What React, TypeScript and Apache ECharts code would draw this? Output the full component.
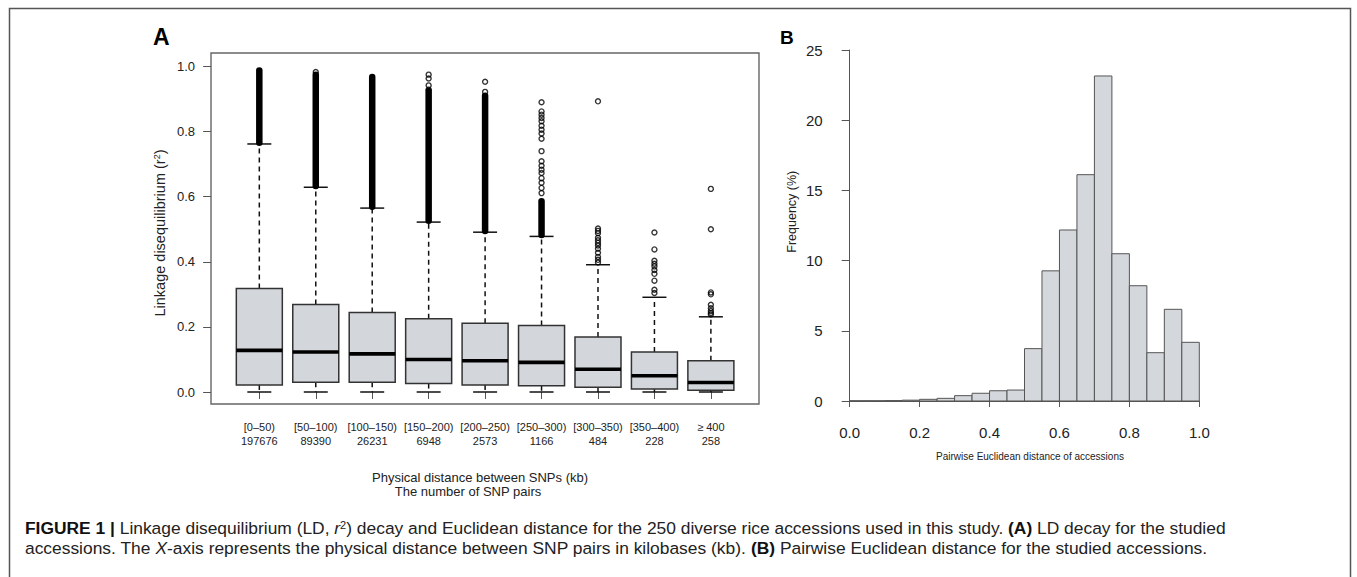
import React, { useEffect, useRef } from "react";
import * as echarts from "echarts";

// ---------- Panel A data ----------
const categories = ["[0\u201350)", "[50\u2013100)", "[100\u2013150)", "[150\u2013200)", "[200\u2013250)", "[250\u2013300)", "[300\u2013350)", "[350\u2013400)", "\u2265 400"];
const pairCounts = ["197676", "89390", "26231", "6948", "2573", "1166", "484", "228", "258"];
// lower whisker, Q1, median, Q3, upper whisker
const boxLow = [0, 0, 0, 0, 0, 0, 0, 0, 0];
const boxQ1 = [0.0215, 0.03, 0.03, 0.026, 0.0215, 0.019, 0.0144, 0.009, 0.005];
const boxMedian = [0.128, 0.123, 0.117, 0.1, 0.096, 0.091, 0.07, 0.05, 0.029];
const boxQ3 = [0.318, 0.269, 0.244, 0.225, 0.211, 0.204, 0.169, 0.123, 0.096];
const boxHigh = [0.762, 0.629, 0.565, 0.522, 0.491, 0.478, 0.391, 0.291, 0.231];
// ranges where outlier circles overlap into a solid column
const denseFrom = [0.766, 0.633, 0.569, 0.526, 0.495, 0.482, null, null, null];
const denseTo = [0.988, 0.975, 0.968, 0.925, 0.91, 0.586, null, null, null];
// individually visible outliers
const sparseOutliers = [
  [],
  [0.983],
  [],
  [0.929, 0.942, 0.963, 0.975],
  [0.922, 0.953],
  [0.611, 0.627, 0.643, 0.657, 0.673, 0.683, 0.695, 0.709, 0.74, 0.778, 0.794, 0.806, 0.818, 0.832, 0.842, 0.852, 0.862, 0.89],
  [0.398, 0.406, 0.415, 0.428, 0.44, 0.45, 0.458, 0.466, 0.474, 0.488, 0.495, 0.502, 0.893],
  [0.304, 0.314, 0.342, 0.363, 0.375, 0.386, 0.394, 0.403, 0.438, 0.49],
  [0.238, 0.243, 0.249, 0.257, 0.268, 0.3, 0.306, 0.5, 0.624],
];
const yTicksA = [0, 0.2, 0.4, 0.6, 0.8, 1.0];

// ---------- Panel B data ----------
const binEdges = [0, 0.05, 0.1, 0.15, 0.2, 0.25, 0.3, 0.35, 0.4, 0.45, 0.5, 0.55, 0.6, 0.65, 0.7, 0.75, 0.8, 0.85, 0.9, 0.95, 1.0];
const frequency = [0.02, 0.02, 0.03, 0.06, 0.12, 0.19, 0.38, 0.55, 0.73, 0.78, 3.73, 9.27, 12.18, 16.12, 23.15, 10.49, 8.21, 3.44, 6.53, 4.18];

const FONT = "'Liberation Sans', Arial, Helvetica, sans-serif";
const TXT = "#222";
const AX = "#555";
const CAP = 17.4;

function buildOption() {
  const boxData = categories.map((_, i) => [i, boxLow[i], boxQ1[i], boxMedian[i], boxQ3[i], boxHigh[i]]);
  const denseData: number[][] = [];
  categories.forEach((_, i) => {
    if (denseFrom[i] != null) denseData.push([i, denseFrom[i] as number, denseTo[i] as number]);
  });
  const outlierData: number[][] = [];
  sparseOutliers.forEach((arr, i) => arr.forEach((v) => outlierData.push([i, v])));
  const histData = frequency.map((f, i) => [binEdges[i], binEdges[i + 1], f]);

  return {
    animation: false,
    textStyle: { fontFamily: FONT },
    grid: [
      { left: 231.1, width: 508, top: 66.5, height: 325.5 },
      { left: 849.7, width: 349.6, top: 50, height: 351 },
    ],
    xAxis: [
      {
        type: "category",
        gridIndex: 0,
        data: categories,
        offset: 12,
        axisLine: { show: false },
        axisTick: { show: true, alignWithLabel: true, interval: 0, length: 7, lineStyle: { color: AX, width: 1 } },
        axisLabel: {
          interval: 0,
          margin: 16,
          fontSize: 11,
          lineHeight: 14,
          color: TXT,
          formatter: (v: string, idx: number) => v + "\n" + pairCounts[idx],
        },
        splitLine: { show: false },
      },
      {
        type: "value",
        gridIndex: 1,
        min: 0,
        max: 1,
        interval: 0.2,
        offset: 13,
        axisLine: { show: true, lineStyle: { color: AX, width: 1 } },
        axisTick: { show: true, length: 6, lineStyle: { color: AX } },
        axisLabel: { margin: 11, fontSize: 15, color: TXT, formatter: (v: number) => v.toFixed(1) },
        splitLine: { show: false },
      },
    ],
    yAxis: [
      {
        type: "value",
        gridIndex: 0,
        min: yTicksA[0],
        max: yTicksA[yTicksA.length - 1],
        interval: 0.2,
        offset: 20,
        axisLine: { show: false },
        axisTick: { show: true, length: 8, lineStyle: { color: AX } },
        axisLabel: { margin: 16, fontSize: 13, color: TXT, formatter: (v: number) => v.toFixed(1) },
        splitLine: { show: false },
      },
      {
        type: "value",
        gridIndex: 1,
        min: 0,
        max: 25,
        interval: 5,
        offset: 13,
        axisLine: { show: true, lineStyle: { color: AX, width: 1 } },
        axisTick: { show: true, length: 8, lineStyle: { color: AX } },
        axisLabel: { margin: 14, fontSize: 15, color: TXT },
        splitLine: { show: false },
      },
    ],
    series: [
      {
        type: "custom",
        xAxisIndex: 0,
        yAxisIndex: 0,
        data: boxData,
        encode: { x: 0, y: [1, 2, 3, 4, 5] },
        clip: false,
        renderItem: (params: any, api: any) => {
          const i = api.value(0);
          const cx = api.coord([i, 0])[0];
          const yLo = api.coord([i, api.value(1)])[1];
          const yQ1 = api.coord([i, api.value(2)])[1];
          const yMed = api.coord([i, api.value(3)])[1];
          const yQ3 = api.coord([i, api.value(4)])[1];
          const yHi = api.coord([i, api.value(5)])[1];
          const band = api.size([1, 0])[0];
          const bw = band * 0.815;
          const cw = band * 0.425;
          const dash = { stroke: "#111", lineWidth: 1.5, lineDash: [5, 4] };
          const solid = { stroke: "#111", lineWidth: 1.5 };
          return {
            type: "group",
            children: [
              { type: "line", shape: { x1: cx, y1: yQ3, x2: cx, y2: yHi }, style: dash },
              { type: "line", shape: { x1: cx, y1: yQ1, x2: cx, y2: yLo }, style: dash },
              { type: "line", shape: { x1: cx - cw / 2, y1: yHi, x2: cx + cw / 2, y2: yHi }, style: solid },
              { type: "line", shape: { x1: cx - cw / 2, y1: yLo, x2: cx + cw / 2, y2: yLo }, style: solid },
              {
                type: "rect",
                shape: { x: cx - bw / 2, y: yQ3, width: bw, height: yQ1 - yQ3 },
                style: { fill: "#d3d7db", stroke: "#333", lineWidth: 1.5 },
              },
              { type: "line", shape: { x1: cx - bw / 2, y1: yMed, x2: cx + bw / 2, y2: yMed }, style: { stroke: "#000", lineWidth: 3.6 } },
            ],
          };
        },
      },
      {
        type: "custom",
        xAxisIndex: 0,
        yAxisIndex: 0,
        data: denseData,
        encode: { x: 0, y: [1, 2] },
        clip: false,
        renderItem: (params: any, api: any) => {
          const i = api.value(0);
          const p0 = api.coord([i, api.value(1)]);
          const p1 = api.coord([i, api.value(2)]);
          return {
            type: "line",
            shape: { x1: p0[0], y1: p0[1], x2: p1[0], y2: p1[1] },
            style: { stroke: "#000", lineWidth: 6.5, lineCap: "round" },
          };
        },
      },
      {
        type: "scatter",
        xAxisIndex: 0,
        yAxisIndex: 0,
        data: outlierData,
        symbol: "circle",
        symbolSize: 5,
        itemStyle: { color: "rgba(0,0,0,0)", borderColor: "#000", borderWidth: 1.4 },
      },
      {
        type: "custom",
        xAxisIndex: 1,
        yAxisIndex: 1,
        data: histData,
        encode: { x: [0, 1], y: 2 },
        clip: false,
        renderItem: (params: any, api: any) => {
          const p0 = api.coord([api.value(0), api.value(2)]);
          const p1 = api.coord([api.value(1), 0]);
          return {
            type: "rect",
            shape: { x: p0[0], y: p0[1], width: p1[0] - p0[0], height: p1[1] - p0[1] },
            style: { fill: "#d4d8dc", stroke: "#555", lineWidth: 1 },
          };
        },
      },
    ],
    graphic: [
      { type: "rect", shape: { x: 9.5, y: 8.5, width: 1341, height: 620 }, style: { fill: "none", stroke: "#555", lineWidth: 1.5 }, silent: true },
      { type: "rect", shape: { x: 211, y: 53, width: 548, height: 351 }, style: { fill: "none", stroke: "#666", lineWidth: 1.4 }, silent: true },
      { type: "text", x: 153, y: 37, style: { text: "A", fontSize: 23, fontWeight: "bold", fontFamily: FONT, fill: "#000", align: "left", verticalAlign: "middle" } },
      { type: "text", x: 780, y: 37, style: { text: "B", fontSize: 19, fontWeight: "bold", fontFamily: FONT, fill: "#000", align: "left", verticalAlign: "middle" } },
      {
        type: "text",
        x: 160,
        y: 233,
        rotation: Math.PI / 2,
        style: {
          text: "Linkage disequilibrium (r{sup|2})",
          fontSize: 14.5,
          fontFamily: FONT,
          fill: TXT,
          align: "center",
          verticalAlign: "middle",
          rich: { sup: { fontSize: 9, fontFamily: FONT, fill: TXT, verticalAlign: "top", lineHeight: 9 } },
        },
      },
      { type: "text", x: 480, y: 477, style: { text: "Physical distance between SNPs (kb)", fontSize: 13, fontFamily: FONT, fill: TXT, align: "center", verticalAlign: "middle" } },
      { type: "text", x: 468, y: 491, style: { text: "The number of SNP pairs", fontSize: 13, fontFamily: FONT, fill: TXT, align: "center", verticalAlign: "middle" } },
      {
        type: "text",
        x: 791.7,
        y: 211.7,
        rotation: Math.PI / 2,
        style: { text: "Frequency (%)", fontSize: 12.5, fontFamily: FONT, fill: TXT, align: "center", verticalAlign: "middle" },
      },
      { type: "text", x: 1030, y: 456, style: { text: "Pairwise Euclidean distance of accessions", fontSize: 10, fontFamily: FONT, fill: TXT, align: "center", verticalAlign: "middle" } },
      {
        type: "text",
        x: 25,
        y: 528,
        style: {
          text: "{b|FIGURE 1 |} Linkage disequilibrium (LD, {i|r}{sup|2}) decay and Euclidean distance for the 250 diverse rice accessions used in this study. {b|(A)} LD decay for the studied",
          fontSize: CAP,
          fontFamily: FONT,
          fill: "#222",
          align: "left",
          verticalAlign: "middle",
          rich: {
            b: { fontWeight: "bold", fontSize: CAP, fontFamily: FONT, fill: "#111" },
            i: { fontStyle: "italic", fontSize: CAP, fontFamily: FONT, fill: "#222" },
            sup: { fontSize: 11, fontFamily: FONT, fill: "#222", verticalAlign: "top", lineHeight: 11 },
          },
        },
      },
      {
        type: "text",
        x: 25,
        y: 548,
        style: {
          text: "accessions. The {i|X}-axis represents the physical distance between SNP pairs in kilobases (kb). {b|(B)} Pairwise Euclidean distance for the studied accessions.",
          fontSize: CAP,
          fontFamily: FONT,
          fill: "#222",
          align: "left",
          verticalAlign: "middle",
          rich: {
            b: { fontWeight: "bold", fontSize: CAP, fontFamily: FONT, fill: "#111" },
            i: { fontStyle: "italic", fontSize: CAP, fontFamily: FONT, fill: "#222" },
          },
        },
      },
    ],
  };
}

export default function App() {
  const ref = useRef<HTMLDivElement>(null);
  useEffect(() => {
    if (!ref.current) return;
    const chart = echarts.init(ref.current, null, { renderer: "svg" });
    chart.setOption(buildOption() as any);
    return () => chart.dispose();
  }, []);
  return (
    <div
      ref={ref}
      style={{ position: "fixed", left: 0, top: 0, width: 1357, height: 577, background: "#fff" }}
    />
  );
}
